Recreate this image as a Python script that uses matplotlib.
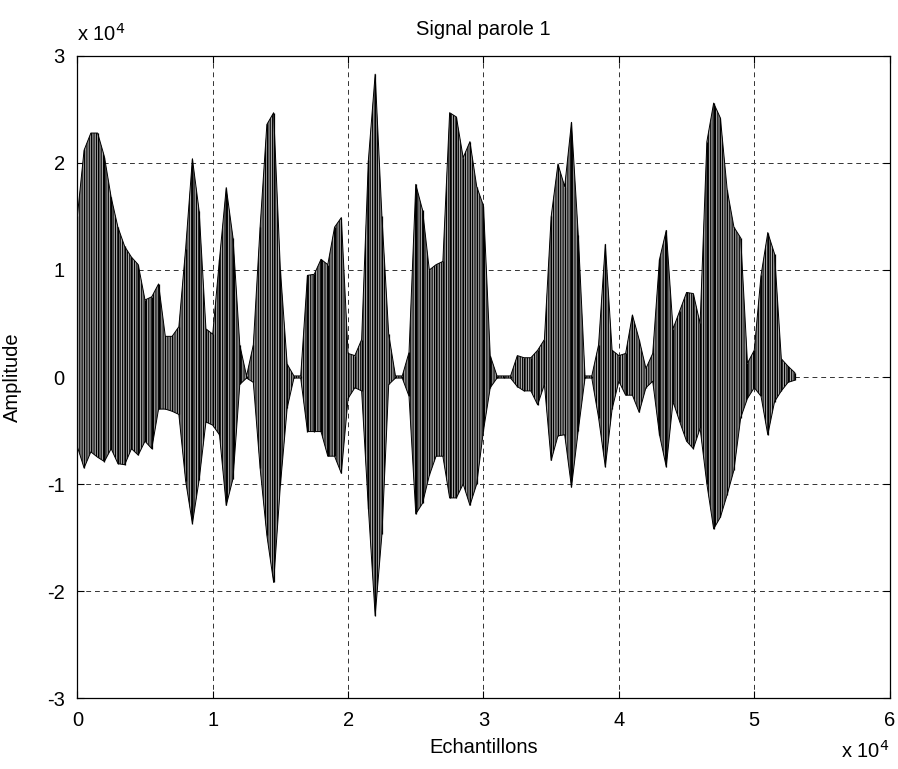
import numpy as np
import matplotlib.pyplot as plt

plt.rcParams['font.family'] = ['Liberation Sans', 'DejaVu Sans']
plt.rcParams['axes.unicode_minus'] = False
plt.rcParams['hatch.linewidth'] = 0.8

# envelope of the speech signal, one value every 500 samples (x 10^4)
samples = np.arange(0, 53001, 500)
upper = [1.50, 2.12, 2.28, 2.28, 2.06, 1.68, 1.40, 1.22, 1.12, 1.05,
         0.72, 0.75, 0.87, 0.38, 0.38, 0.47, 1.20, 2.04, 1.55, 0.45,
         0.40, 1.10, 1.77, 1.30, 0.30, 0.01, 0.30, 1.40, 2.36, 2.47,
         1.00, 0.12, 0.01, 0.01, 0.95, 0.96, 1.10, 1.05, 1.40, 1.49,
         0.22, 0.20, 0.35, 2.03, 2.83, 1.50, 0.40, 0.01, 0.01, 0.23,
         1.80, 1.56, 1.00, 1.05, 1.08, 2.47, 2.43, 2.05, 2.20, 1.78,
         1.60, 0.20, 0.01, 0.01, 0.01, 0.20, 0.18, 0.18, 0.25, 0.35,
         1.50, 1.99, 1.78, 2.38, 1.33, 0.01, 0.01, 0.30, 1.24, 0.25,
         0.20, 0.22, 0.58, 0.35, 0.08, 0.22, 1.10, 1.37, 0.45, 0.62,
         0.79, 0.78, 0.50, 2.20, 2.56, 2.42, 1.75, 1.40, 1.30, 0.13,
         0.25, 0.95, 1.35, 1.15, 0.17, 0.10, 0.04]
lower = [-0.65, -0.85, -0.70, -0.75, -0.79, -0.67, -0.81, -0.82, -0.67, -0.73,
         -0.60, -0.67, -0.30, -0.30, -0.32, -0.35, -0.97, -1.37, -0.96, -0.42,
         -0.45, -0.54, -1.20, -0.95, -0.07, -0.01, -0.05, -0.85, -1.48, -1.92,
         -1.01, -0.29, -0.01, -0.01, -0.51, -0.51, -0.51, -0.74, -0.74, -0.90,
         -0.20, -0.10, -0.13, -1.23, -2.23, -1.47, -0.07, -0.01, -0.01, -0.18,
         -1.28, -1.18, -0.92, -0.74, -0.74, -1.13, -1.13, -1.00, -1.20, -1.00,
         -0.50, -0.10, -0.01, -0.01, -0.01, -0.09, -0.13, -0.13, -0.26, -0.07,
         -0.78, -0.55, -0.54, -1.03, -0.50, -0.01, -0.01, -0.38, -0.84, -0.30,
         -0.04, -0.17, -0.17, -0.33, -0.10, -0.04, -0.54, -0.84, -0.23, -0.42,
         -0.60, -0.67, -0.48, -1.00, -1.42, -1.31, -1.10, -0.87, -0.38, -0.20,
         -0.10, -0.18, -0.54, -0.23, -0.13, -0.05, -0.03]

fig = plt.figure(figsize=(8.98, 7.69), dpi=100)
ax = fig.add_axes([0.0861, 0.0923, 0.9046, 0.8349])

x = samples / 1e4
ax.fill_between(x, lower, upper, facecolor='#a8a8a8', edgecolor='k',
                hatch='|' * 7, linewidth=0.7, zorder=3)
ax.vlines(x, lower, upper, color='k', linewidth=0.9, zorder=4)

ax.set_xlim(0, 6)
ax.set_ylim(-3, 3)
ax.set_xticks(range(0, 7))
ax.set_yticks(range(-3, 4))
ax.grid(True, color='#333333', linestyle=(0, (5, 4)), linewidth=0.7)
ax.tick_params(direction='in', length=5, top=True, right=True,
               labelsize=14.5, pad=9, width=0.8)
for s in ax.spines.values():
    s.set_linewidth(0.9)

ax.set_title('Signal parole 1', fontsize=14.5, pad=15)
ax.set_xlabel('Echantillons', fontsize=14.5, labelpad=6)
ax.set_ylabel('Amplitude', fontsize=14.5)
ax.yaxis.set_label_coords(-0.068, 0.5)

ax.text(0.0, 1.018, r'x 10$^4$', transform=ax.transAxes,
        fontsize=14.5, ha='left', va='bottom')
ax.text(1.0, -0.065, r'x 10$^4$', transform=ax.transAxes,
        fontsize=14.5, ha='right', va='top')

fig.savefig('out.png', dpi=100)
